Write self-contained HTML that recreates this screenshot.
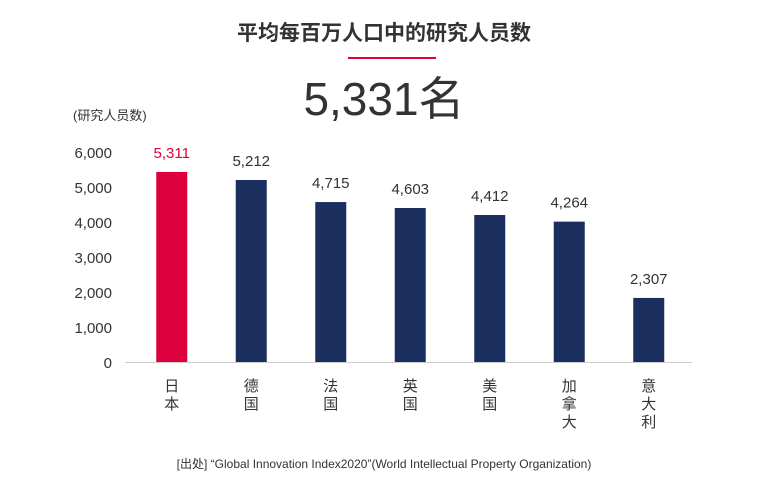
<!DOCTYPE html>
<html><head><meta charset="utf-8"><style>
body{margin:0;background:#fff;font-family:"Liberation Sans","Noto Sans CJK SC",sans-serif;}
#wrap{position:relative;width:768px;height:500px;overflow:hidden;}
</style></head><body>
<div id="wrap">
<svg id="chart" width="768" height="500" style="font-family:'Liberation Sans','Noto Sans CJK SC',sans-serif">
<text x="384" y="40" text-anchor="middle" font-size="21" font-weight="bold" fill="#333">平均每百万人口中的研究人员数</text>
<rect x="348" y="57" width="88" height="2" fill="#e0003c"/>
<text x="384" y="115" text-anchor="middle" font-size="46" fill="#333">5,331名</text>
<text x="73" y="120" font-size="13" fill="#333">(研究人员数)</text>
<g id="axis"></g><g id="bars"></g>
<text x="384" y="468" text-anchor="middle" font-size="12" fill="#333">[出处] “Global Innovation Index2020”(World Intellectual Property Organization)</text>
</svg>
</div>
<script>
const categories=["日本","德国","法国","英国","美国","加拿大","意大利"];
const barValues=[5430,5200,4570,4400,4200,4010,1830];
const valueLabels=["5,311","5,212","4,715","4,603","4,412","4,264","2,307"];
const tickValues=[0,1000,2000,3000,4000,5000,6000];
const tickLabels=["0","1,000","2,000","3,000","4,000","5,000","6,000"];
const NS="http://www.w3.org/2000/svg";
const y0=362,pxPer=210/6000,left=132,band=79.5,bw=31;
const y=v=>y0-v*pxPer, xc=i=>left+band*i+band/2;
function mk(t,a,p){const e=document.createElementNS(NS,t);for(const k in a)e.setAttribute(k,a[k]);p.appendChild(e);return e;}
const ax=document.getElementById('axis'),bg=document.getElementById('bars');
tickValues.forEach((v,i)=>{const t=mk('text',{x:112,y:y(v)+6,'text-anchor':'end','font-size':15,fill:'#333'},ax);t.textContent=tickLabels[i];

});
const base=mk('line',{x1:125,x2:692,y1:y0+0.5,y2:y0+0.5,stroke:'#ccc'},ax);


categories.forEach((c,i)=>{
const col=i===0?'#dc003c':'#1b2f5e';
const r=mk('rect',{x:xc(i)-bw/2,y:y(barValues[i]),width:bw,height:y0-y(barValues[i]),fill:col},bg);


const l=mk('text',{x:xc(i),y:y(barValues[i])-14,'text-anchor':'middle','font-size':15,fill:i===0?'#dc003c':'#333'},bg);
l.textContent=valueLabels[i];


[...c].forEach((ch,j)=>{const t=mk('text',{x:xc(i),y:391+j*18,'text-anchor':'middle','font-size':15,fill:'#333'},bg);t.textContent=ch;

});
});
</script>
</body></html>
